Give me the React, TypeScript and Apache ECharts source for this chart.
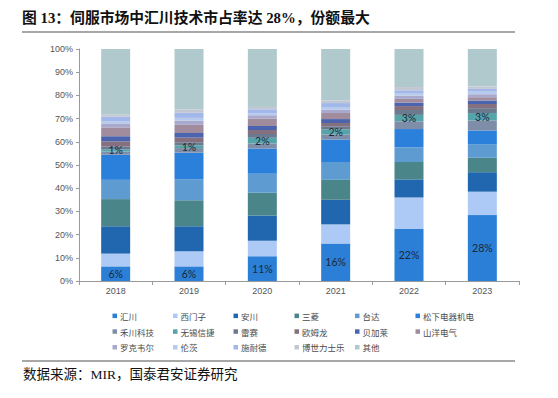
import React, { useEffect, useRef } from "react";
import * as echarts from "echarts";

const years = ["2018", "2019", "2020", "2021", "2022", "2023"];
const yTicks = [0, 10, 20, 30, 40, 50, 60, 70, 80, 90, 100];

const huichuan = [6.3, 6.3, 10.7, 16.2, 22.4, 28.4];
const siemens = [5.5, 6.5, 6.6, 8.2, 13.6, 10.1];
const yaskawa = [11.8, 10.8, 10.9, 10.6, 7.8, 8.4];
const mitsubishi = [11.7, 11.2, 9.8, 8.6, 7.5, 6.2];
const delta = [8.3, 9.1, 8.2, 7.7, 6.3, 5.9];
const panasonic = [10.8, 11.4, 10.9, 9.7, 7.9, 5.9];
const hechuan = [1.4, 2.0, 2.2, 2.2, 3.3, 4.3];
const xinje = [1.0, 1.2, 2.4, 2.2, 2.8, 3.2];
const leadshine = [1.2, 1.3, 1.7, 1.3, 2.1, 2.1];
const omron = [2.2, 2.0, 1.7, 1.4, 1.7, 1.8];
const br = [2.2, 2.0, 1.7, 1.7, 1.5, 1.5];
const sanyo = [3.8, 3.5, 3.2, 2.6, 1.6, 1.4];
const rockwell = [1.7, 1.8, 1.4, 1.4, 1.4, 1.3];
const lenze = [1.0, 1.2, 0.9, 1.2, 1.1, 1.1];
const schneider = [1.9, 2.2, 1.7, 1.7, 1.2, 1.2];
const bosch = [1.0, 1.5, 1.0, 1.2, 1.4, 1.0];
const others = [28.2, 26.0, 25.0, 22.1, 16.4, 16.2];

const seriesDefs = [
  { name: "汇川", data: huichuan, color: "#2b7fd6", label: true },
  { name: "西门子", data: siemens, color: "#adc9f5" },
  { name: "安川", data: yaskawa, color: "#2067b0" },
  { name: "三菱", data: mitsubishi, color: "#4a8589" },
  { name: "台达", data: delta, color: "#5e9bd0" },
  { name: "松下电器机电", data: panasonic, color: "#2a80da" },
  { name: "禾川科技", data: hechuan, color: "#7f8ea8" },
  { name: "无锡信捷", data: xinje, color: "#56a3aa", label: true },
  { name: "雷赛", data: leadshine, color: "#6b7a8e" },
  { name: "欧姆龙", data: omron, color: "#85707f" },
  { name: "贝加莱", data: br, color: "#4a64b0" },
  { name: "山洋电气", data: sanyo, color: "#a08c9c" },
  { name: "罗克韦尔", data: rockwell, color: "#a8a9cc" },
  { name: "伦茨", data: lenze, color: "#b6caeb" },
  { name: "施耐德", data: schneider, color: "#a3b8ea" },
  { name: "博世力士乐", data: bosch, color: "#c3c7d3" },
  { name: "其他", data: others, color: "#b0c9cd" },
];

const legendLefts = [107.5, 168, 228.5, 289.5, 350, 410.5];

export default function App() {
  const ref = useRef<HTMLDivElement>(null);
  useEffect(() => {
    if (!ref.current) return;
    const chart = echarts.init(ref.current, undefined, { renderer: "svg" });
    const legends = legendLefts.map((left, col) => ({
      orient: "vertical",
      left,
      top: 303,
      itemWidth: 4.5,
      itemHeight: 4.5,
      itemGap: 0,
      icon: "rect",
      selectedMode: false,
      data: [col, col + 6, col + 12]
        .filter((i) => i < seriesDefs.length)
        .map((i) => seriesDefs[i].name),
      textStyle: {
        fontSize: 8.5,
        color: "#4a4a4a",
        fontFamily: "'Noto Sans CJK SC', sans-serif",
        lineHeight: 15.7,
        padding: [0, 0, 0, -2],
      },
    }));
    chart.setOption({
      animation: false,
      backgroundColor: "#fff",
      grid: { left: 79, right: 39, top: 49, bottom: 117 },
      legend: legends,
      xAxis: {
        type: "category",
        data: years,
        axisLine: { lineStyle: { color: "#9a9a9a", width: 1 } },
        axisTick: { show: true, length: 4, lineStyle: { color: "#9a9a9a" } },
        axisLabel: {
          fontSize: 9,
          color: "#555",
          margin: 5,
          fontFamily: "'Liberation Sans', Arial, sans-serif",
        },
      },
      yAxis: {
        type: "value",
        min: 0,
        max: 100,
        interval: 10,
        axisLine: { show: true, lineStyle: { color: "#9a9a9a", width: 1 } },
        axisTick: { show: true, length: 3, lineStyle: { color: "#9a9a9a" } },
        splitLine: { show: false },
        axisLabel: {
          fontSize: 9,
          color: "#555",
          margin: 6,
          fontFamily: "'Liberation Sans', Arial, sans-serif",
          formatter: (v: number) => (yTicks.includes(v) ? v + "%" : ""),
        },
      },
      series: seriesDefs.map((s) => ({
        type: "bar",
        name: s.name,
        stack: "total",
        barWidth: 29,
        data: s.data,
        itemStyle: { color: s.color },
        label: s.label
          ? {
              show: true,
              position: "inside",
              fontSize: 10.5,
              color: "#1b2838",
              fontFamily: "Lato, 'Liberation Sans', sans-serif",
              formatter: (p: any) => Math.round(p.value) + "%",
            }
          : { show: false },
      })),
      graphic: [
        {
          type: "text",
          left: 22,
          top: 11,
          style: {
            text: "图 13：伺服市场中汇川技术市占率达 28%，份额最大",
            fontSize: 14.8,
            fontWeight: "bold",
            fill: "#111",
            fontFamily: "'Liberation Serif', 'Noto Sans CJK SC', serif",
          },
        },
        {
          type: "line",
          shape: { x1: 22, y1: 32, x2: 515, y2: 32 },
          style: { stroke: "#8a8a8a", lineWidth: 1.5 },
        },
        {
          type: "line",
          shape: { x1: 22, y1: 361, x2: 515, y2: 361 },
          style: { stroke: "#8a8a8a", lineWidth: 1.5 },
        },
        {
          type: "text",
          left: 23,
          top: 368,
          style: {
            text: "数据来源：MIR，国泰君安证券研究",
            fontSize: 13.5,
            fill: "#111",
            fontFamily: "'Liberation Serif', 'Noto Sans CJK SC', serif",
          },
        },
      ],
    });
    return () => chart.dispose();
  }, []);
  return (
    <div
      ref={ref}
      style={{
        position: "absolute",
        left: 0,
        top: 0,
        width: 558,
        height: 398,
        background: "#fff",
      }}
    />
  );
}
